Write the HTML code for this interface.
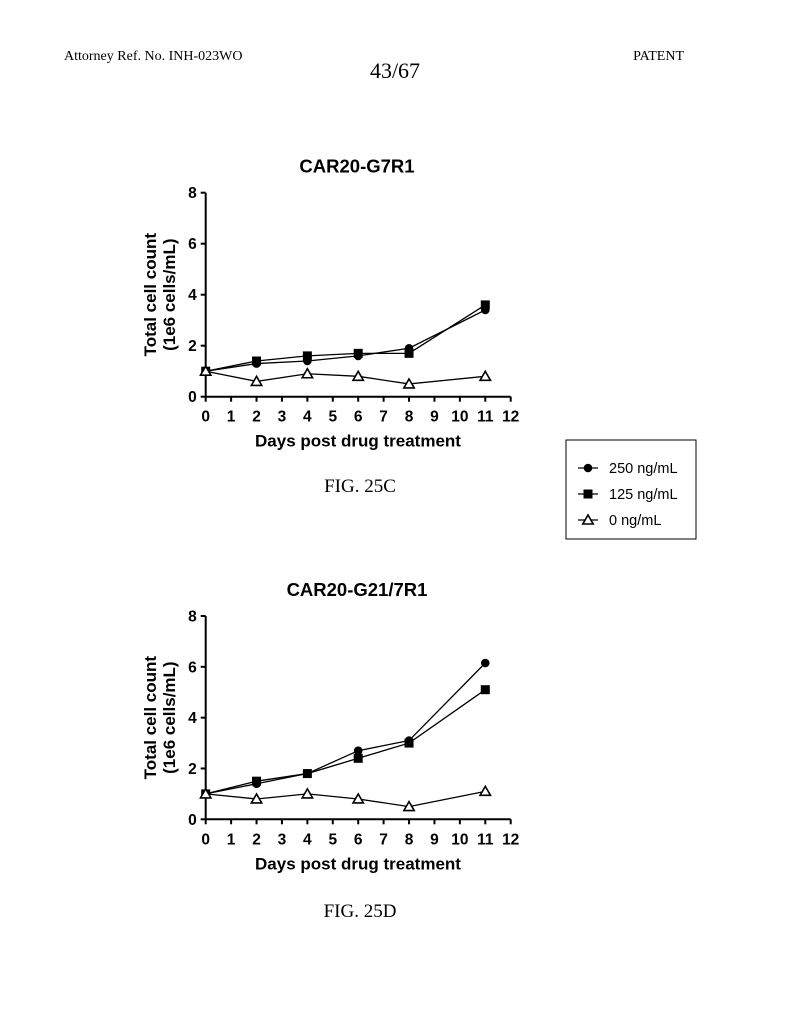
<!DOCTYPE html>
<html><head><meta charset="utf-8"><style>
html,body{margin:0;padding:0;background:#fff;}
svg{display:block;}
.ser{font-family:"Liberation Serif",serif;fill:#000;}
.san{font-family:"Liberation Sans",sans-serif;fill:#000;}
</style></head><body>
<svg id="page" width="790" height="1024" viewBox="0 0 790 1024">
<text class="ser" x="64" y="60" font-size="14">Attorney Ref. No. INH-023WO</text>
<text class="ser" x="395" y="78" font-size="22" text-anchor="middle">43/67</text>
<text class="ser" x="684" y="60" font-size="14" text-anchor="end">PATENT</text>
<text class="ser" x="360" y="492" font-size="19" text-anchor="middle">FIG. 25C</text>
<text class="ser" x="360" y="917" font-size="19" text-anchor="middle">FIG. 25D</text>
<g>
<rect x="566" y="440" width="130" height="99" fill="none" stroke="#000" stroke-width="1"/>
<g id="leg"></g>
</g>
<g id="c1"></g>
<g id="c2"></g>
</svg>
<script>
const days = [0,2,4,6,8,11];
const seriesNames = ["250 ng/mL","125 ng/mL","0 ng/mL"];
const c1_250 = [1,1.3,1.4,1.6,1.9,3.4];
const c1_125 = [1,1.4,1.6,1.7,1.7,3.6];
const c1_0 = [1,0.6,0.9,0.8,0.5,0.8];
const c2_250 = [1,1.4,1.8,2.7,3.1,6.15];
const c2_125 = [1,1.5,1.8,2.4,3.0,5.1];
const c2_0 = [1,0.8,1.0,0.8,0.5,1.1];
const xTicks = [0,1,2,3,4,5,6,7,8,9,10,11,12];
const yTicks = [0,2,4,6,8];
const NS="http://www.w3.org/2000/svg";
function mk(p,tag,a){const e=document.createElementNS(NS,tag);for(const k in a)e.setAttribute(k,a[k]);p.appendChild(e);return e;}
function marker(g,kind,x,y){
  if(kind===0){const m=mk(g,'circle',{cx:x,cy:y,r:4.3,fill:'#000'});}
  else if(kind===1){const m=mk(g,'rect',{x:x-4.5,y:y-4.5,width:9,height:9,fill:'#000'});}
  else{const m=mk(g,'polygon',{points:`${x},${y-5} ${x-5.2},${y+4} ${x+5.2},${y+4}`,fill:'#fff',stroke:'#000','stroke-width':1.6});}
}
function chart(g,title,y0,y8,series){
  const x0=205.7,x12=510.7;
  const X=d=>x0+(x12-x0)*d/12, Y=v=>y0+(y8-y0)*v/8;
  const t=mk(g,'text',{x:357,y:y8-20,'font-size':18.5,'font-weight':'bold','text-anchor':'middle',class:'san'});t.textContent=title;
  
  
  mk(g,'line',{x1:x0,y1:y8,x2:x0,y2:y0,stroke:'#000','stroke-width':2});
  mk(g,'line',{x1:x0,y1:y0,x2:x12,y2:y0,stroke:'#000','stroke-width':2});
  yTicks.forEach(v=>{mk(g,'line',{x1:x0-5,y1:Y(v),x2:x0,y2:Y(v),stroke:'#000','stroke-width':2});
    const l=mk(g,'text',{x:x0-9,y:Y(v)+5.5,'font-size':15.5,'font-weight':'bold','text-anchor':'end',class:'san'});l.textContent=v;
    
    });
  xTicks.forEach(d=>{mk(g,'line',{x1:X(d),y1:y0,x2:X(d),y2:y0+5,stroke:'#000','stroke-width':2});
    const l=mk(g,'text',{x:X(d),y:y0+25,'font-size':15.5,'font-weight':'bold','text-anchor':'middle',class:'san'});l.textContent=d;
    
    });
  const xt=mk(g,'text',{x:358,y:y0+50,'font-size':17,'font-weight':'bold','text-anchor':'middle',class:'san'});xt.textContent='Days post drug treatment';
  
  
  const cy=(y0+y8)/2;
  const yt=mk(g,'text',{transform:`translate(156,${cy}) rotate(-90)`,'font-size':17,'font-weight':'bold','text-anchor':'middle',class:'san'});yt.textContent='Total cell count';
  
  
  const yt2=mk(g,'text',{transform:`translate(175,${cy}) rotate(-90)`,'font-size':17,'font-weight':'bold','text-anchor':'middle',class:'san'});yt2.textContent='(1e6 cells/mL)';
  
  
  series.forEach((vals,k)=>{
    const sg=mk(g,'g',{});
    
    
    mk(sg,'polyline',{points:days.map((d,i)=>X(d)+','+Y(vals[i])).join(' '),fill:'none',stroke:'#000','stroke-width':1.3});
    days.forEach((d,i)=>marker(sg,k,X(d),Y(vals[i])));
  });
}
chart(document.getElementById('c1'),'CAR20-G7R1',396.7,192.7,[c1_250,c1_125,c1_0]);
chart(document.getElementById('c2'),'CAR20-G21/7R1',819.3,616,[c2_250,c2_125,c2_0]);
const leg=document.getElementById('leg');
seriesNames.forEach((n,k)=>{
  const y=468+k*26;
  mk(leg,'line',{x1:578,y1:y,x2:598,y2:y,stroke:'#000','stroke-width':1.3});
  marker(leg,k,588,y);
  const t=mk(leg,'text',{x:609,y:y+5,'font-size':14.5,class:'san'});t.textContent=n;
  
  
});
</script>
</body></html>
